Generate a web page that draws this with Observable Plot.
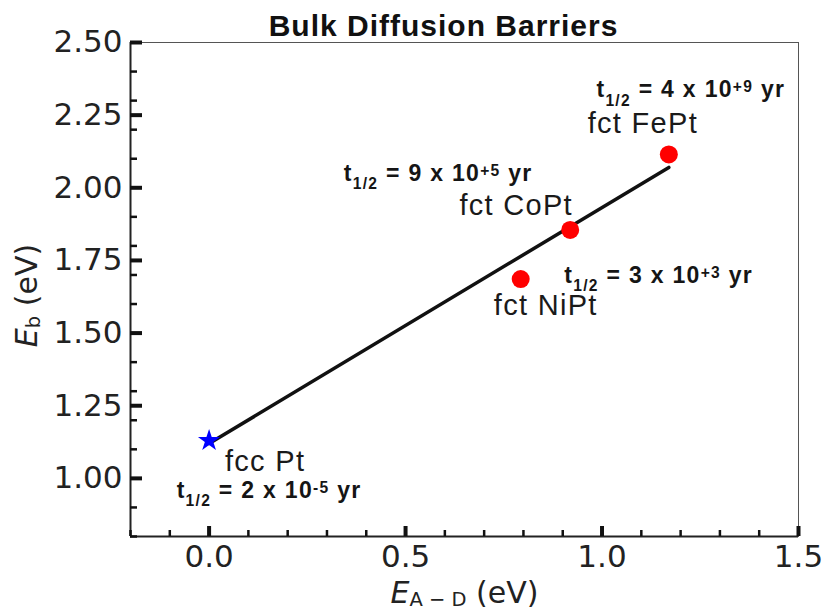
<!DOCTYPE html>
<html>
<head>
<meta charset="utf-8">
<script src="https://cdn.jsdelivr.net/npm/d3@7"></script>
<script src="https://cdn.jsdelivr.net/npm/@observablehq/plot@0.6"></script>
<style>
  html, body { margin: 0; padding: 0; background: #fff; }
</style>
</head>
<body>
<div id="chart"></div>
<script>
// ---- data ----
const alloys = ["fcc Pt", "fct NiPt", "fct CoPt", "fct FePt"];
const eAD = [0.0, 0.793, 0.919, 1.17];          // E_A-D (eV)
const eB = [1.13, 1.686, 1.855, 2.115];         // E_b (eV)
const halfLives = [
  "t_{1/2} = 2 x 10^{-5} yr",
  "t_{1/2} = 3 x 10^{+3} yr",
  "t_{1/2} = 9 x 10^{+5} yr",
  "t_{1/2} = 4 x 10^{+9} yr"
];
const fitX = [0.0, 1.17];
const fitY = [1.12, 2.07];
const xDomain = [-0.2, 1.5];
const yDomain = [0.8, 2.5];
const xMajor = [0.0, 0.5, 1.0, 1.5];
const xMinor = [-0.2, -0.1, 0.1, 0.2, 0.3, 0.4, 0.6, 0.7, 0.8, 0.9, 1.1, 1.2, 1.3, 1.4];
const yMajor = [1.00, 1.25, 1.50, 1.75, 2.00, 2.25, 2.50];
const yMinor = [0.8, 0.9, 1.1, 1.2, 1.3, 1.4, 1.6, 1.7, 1.8, 1.9, 2.1, 2.2, 2.3, 2.4];
const titleText = "Bulk Diffusion Barriers";
const xLabel = "*E*_{A − D} (eV)";
const yLabel = "*E*_{b} (eV)";

// ---- layout (pixel offsets of labels from their point) ----
const nameOffsets = [[56, 30], [25, 36], [-54, -15], [-26, -21]];
const lifeOffsets = [[60, 57], [138, 4], [-132, -49], [22, -57]];

const W = 825, H = 610;
const mL = 130, mR = 27, mT = 42, mB = 74;
const pw = W - mL - mR, ph = H - mT - mB;

const pts = alloys.map((a, i) => ({name: a, x: eAD[i], y: eB[i], life: halfLives[i]}));
const fit = fitX.map((x, i) => ({x, y: fitY[i]}));
const compounds = pts.slice(1);
const pure = pts.slice(0, 1);

const sans = "Liberation Sans, Arial, Helvetica, sans-serif";
const dv = "DejaVu Sans, Verdana, sans-serif";

const nameMarks = pts.map((p, i) => Plot.text([p], {
  x: "x", y: "y", text: "name", dx: nameOffsets[i][0], dy: nameOffsets[i][1],
  fontFamily: sans, fontSize: 29, fill: "#1a1a1a", lineAnchor: "bottom", textAnchor: "middle"
}));
const lifeMarks = pts.map((p, i) => Plot.text([p], {
  x: "x", y: "y", text: "life", dx: lifeOffsets[i][0], dy: lifeOffsets[i][1],
  fontFamily: sans, fontSize: 23, fontWeight: "bold", fill: "#151515", lineAnchor: "bottom", textAnchor: "middle"
}));

const plot = Plot.plot({
  width: W, height: H,
  marginLeft: mL, marginRight: mR, marginTop: mT, marginBottom: mB,
  style: {fontFamily: dv, fontSize: "31px", color: "#222", background: "#fff"},
  x: {domain: xDomain, label: null, axis: null},
  y: {domain: yDomain, label: null, axis: null},
  marks: [
    Plot.frame({stroke: "#555", strokeWidth: 1}),
    Plot.ruleX([xDomain[0]], {stroke: "#222", strokeWidth: 2}),
    Plot.ruleY([yDomain[0]], {stroke: "#222", strokeWidth: 2}),
    // inward ticks
    Plot.tickY(yMajor, {y: d => d, stroke: "#111", strokeWidth: 4, insetRight: pw - 12}),
    Plot.tickY(yMinor, {y: d => d, stroke: "#111", strokeWidth: 2.5, insetRight: pw - 7}),
    Plot.tickX(xMajor, {x: d => d, stroke: "#111", strokeWidth: 4, insetTop: ph - 10}),
    Plot.tickX(xMinor, {x: d => d, stroke: "#111", strokeWidth: 2.5, insetTop: ph - 6}),
    // tick labels
    Plot.axisY(yMajor, {tickSize: 0, tickPadding: 8, tickFormat: d3.format(".2f"), fontSize: 31, fill: "#222", label: null}),
    Plot.axisX(xMajor, {tickSize: 0, tickPadding: 8, tickFormat: d3.format(".1f"), fontSize: 31, fill: "#222", label: null}),
    // fit line
    Plot.line(fit, {x: "x", y: "y", stroke: "#111", strokeWidth: 3.5}),
    // points
    Plot.dot(compounds, {x: "x", y: "y", r: 9, fill: "#ff0000", stroke: "none"}),
    Plot.dot(pure, {x: "x", y: "y", r: 7, symbol: "star", fill: "#0000ff", stroke: "none"}),
    ...nameMarks,
    ...lifeMarks,
    // title
    Plot.text([titleText], {text: d => d, frameAnchor: "top", dx: -21, dy: -7, lineAnchor: "bottom",
      fontFamily: sans, fontWeight: "bold", fontSize: 30, fill: "#111"}),
    // axis labels
    Plot.text([xLabel], {text: d => d, frameAnchor: "bottom", dy: 66, lineAnchor: "bottom", textAnchor: "middle",
      fontFamily: dv, fontSize: 30, fill: "#222"}),
    Plot.text([yLabel], {text: d => d, frameAnchor: "left", dx: -94, dy: 6, rotate: -90, lineAnchor: "bottom", textAnchor: "middle",
      fontFamily: dv, fontSize: 30, fill: "#222"})
  ]
});

document.getElementById("chart").appendChild(plot);

// letter spacing for the Arial-like annotation texts (keyed by font size)
const spacing = {"30": 1, "29": 1.3, "23": 1.3};
plot.querySelectorAll("g[font-family]").forEach(g => {
  if (!/Liberation/.test(g.getAttribute("font-family"))) return;
  const ls = spacing[g.getAttribute("font-size")];
  if (ls) g.setAttribute("letter-spacing", ls);
});

// rich text: _{sub}, ^{sup}, *italic*
const NS = "http://www.w3.org/2000/svg";
function richify(el, sub, sup, subSize, supSize) {
  const src = el.textContent;
  const fs = parseFloat(getComputedStyle(el).fontSize) || 20;
  el.textContent = "";
  const parts = src.match(/(_\{[^}]*\}|\^\{[^}]*\}|\*[^*]*\*|[^_^*]+)/g) || [];
  let shift = 0;
  for (const p of parts) {
    const t = document.createElementNS(NS, "tspan");
    let txt = p, target = 0;
    if (p.startsWith("_{")) {
      txt = p.slice(2, -1); target = sub * fs;
      t.setAttribute("font-size", (subSize * fs).toFixed(1));
    } else if (p.startsWith("^{")) {
      txt = p.slice(2, -1); target = -sup * fs;
      t.setAttribute("font-size", (supSize * fs).toFixed(1));
    } else if (p.startsWith("*")) {
      txt = p.slice(1, -1); t.setAttribute("font-style", "italic");
    }
    const d = target - shift;
    if (d) t.setAttribute("dy", d.toFixed(2));
    shift = target;
    t.textContent = txt;
    el.appendChild(t);
  }
}
plot.querySelectorAll("text").forEach(el => {
  if (el.children.length !== 0 || !/_\{|\^\{|\*/.test(el.textContent)) return;
  if (/\(eV\)/.test(el.textContent)) richify(el, 0.12, 0.3, 0.65, 0.65);
  else richify(el, 0.36, 0.22, 0.68, 0.68);
});
</script>
</body>
</html>
